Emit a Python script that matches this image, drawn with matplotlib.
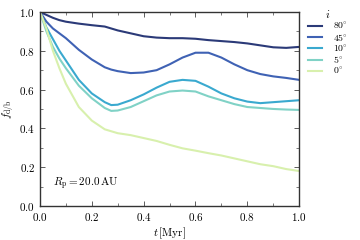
import matplotlib
matplotlib.use("Agg")
import matplotlib.pyplot as plt
from matplotlib.ticker import MultipleLocator

plt.rcParams['font.family'] = 'serif'
plt.rcParams['font.serif'] = ['cmr10', 'DejaVu Serif']
plt.rcParams['mathtext.fontset'] = 'cm'
plt.rcParams['axes.formatter.use_mathtext'] = True

# tid i Myr
t = [0.0, 0.025, 0.05, 0.075, 0.1, 0.15, 0.2, 0.25, 0.275, 0.3, 0.35, 0.4, 0.45,
     0.5, 0.55, 0.6, 0.65, 0.7, 0.75, 0.8, 0.85, 0.9, 0.95, 1.0]

f80 = [1.0, 0.985, 0.97, 0.958, 0.95, 0.94, 0.932, 0.925, 0.915, 0.905, 0.89, 0.875, 0.868,
       0.865, 0.865, 0.862, 0.855, 0.85, 0.845, 0.838, 0.828, 0.818, 0.815, 0.82]
f45 = [1.0, 0.95, 0.915, 0.89, 0.865, 0.805, 0.755, 0.715, 0.703, 0.695, 0.685, 0.688, 0.7,
       0.73, 0.765, 0.79, 0.79, 0.765, 0.73, 0.7, 0.68, 0.668, 0.66, 0.65]
f10 = [1.0, 0.92, 0.86, 0.8, 0.75, 0.65, 0.58, 0.535, 0.52, 0.522, 0.545, 0.575, 0.61,
       0.64, 0.65, 0.645, 0.615, 0.58, 0.555, 0.538, 0.53, 0.535, 0.54, 0.545]
f5 = [1.0, 0.9, 0.82, 0.76, 0.71, 0.62, 0.555, 0.505, 0.49, 0.492, 0.51, 0.54, 0.57,
      0.59, 0.595, 0.59, 0.565, 0.545, 0.525, 0.51, 0.505, 0.5, 0.497, 0.495]
f0 = [1.0, 0.915, 0.8, 0.71, 0.63, 0.51, 0.44, 0.395, 0.385, 0.375, 0.365, 0.35, 0.335,
      0.315, 0.297, 0.285, 0.272, 0.26, 0.245, 0.23, 0.215, 0.205, 0.19, 0.18]

kurvor = [f80, f45, f10, f5, f0]
etiketter = [r'$80\!^\circ$', r'$45\!^\circ$', r'$10\!^\circ$', r'$5\!^\circ$', r'$0\!^\circ$']
farger = ['#2b3a78', '#3f62b4', '#3aa9cf', '#80d2c6', '#d8f0ad']

fig = plt.figure(figsize=(3.6, 2.4), dpi=100)
ax = fig.add_axes([0.111, 0.142, 0.72, 0.808])

for f, lab, c in zip(kurvor, etiketter, farger):
    ax.plot(t, f, color=c, lw=1.5, label=lab)

ax.set_xlim(0, 1)
ax.set_ylim(0, 1)
ax.xaxis.set_major_locator(MultipleLocator(0.2))
ax.yaxis.set_major_locator(MultipleLocator(0.2))
ax.xaxis.set_minor_locator(MultipleLocator(0.1))
ax.yaxis.set_minor_locator(MultipleLocator(0.1))
ax.tick_params(which='both', direction='in', top=True, right=True, labelsize=8, color='#444444')
ax.tick_params(which='major', length=3.5, width=0.6)
ax.tick_params(which='minor', length=2, width=0.5)
for s in ax.spines.values():
    s.set_linewidth(1.0)
    s.set_color('#333333')

ax.set_xlabel(r'$t\,[\mathrm{Myr}]$', fontsize=8, labelpad=2)
ax.set_ylabel(r'$f_{\mathrm{d/b}}$', fontsize=8, labelpad=2)
ax.text(0.05, 0.1, r'$R_{\mathrm{p}} = 20.0\,\mathrm{AU}$', fontsize=8)

leg = ax.legend(loc='upper left', bbox_to_anchor=(1.0, 1.065), frameon=False, title=r'$i$',
                fontsize=7, title_fontsize=8, handlelength=1.5, handletextpad=1.1,
                labelspacing=0.05)

fig.savefig('out.png', dpi=100)
